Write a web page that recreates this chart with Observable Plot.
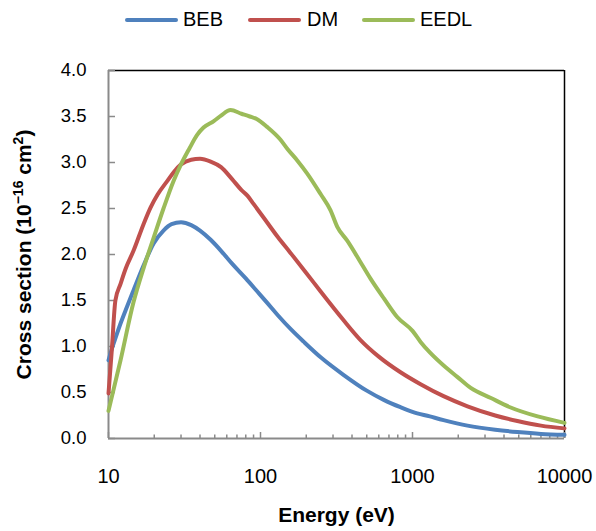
<!DOCTYPE html>
<html><head><meta charset="utf-8">
<script src="https://cdn.jsdelivr.net/npm/d3@7"></script>
<script src="https://cdn.jsdelivr.net/npm/@observablehq/plot@0.6"></script>
<style>
body{margin:0;background:#fff;font-family:"Liberation Sans",Arial,sans-serif;}
#wrap{width:596px;}
#legend{position:relative;width:596px;height:40px;}
.sw{position:absolute;top:18px;height:4px;width:53px;border-radius:2px}
.lb{position:absolute;top:7px;font-size:20px;line-height:24px;color:#000;white-space:nowrap}
</style></head><body>
<div id="wrap"><div id="legend"></div><div id="chart"></div></div>
<script>
const seriesNames = ["BEB", "DM", "EEDL"];
const seriesColors = ["#4F81BD", "#C0504D", "#9BBB59"];

const bebEnergy = [10, 10.5, 11, 12, 13, 14.6, 17, 19.8, 23, 26, 30, 35, 40, 47, 55, 65, 80, 95, 110, 130, 160, 193, 250, 353, 500, 647, 834, 1000, 1300, 1600, 2300, 3500, 4900, 7000, 10000];
const bebSigma  = [0.85, 0.97, 1.07, 1.25, 1.40, 1.61, 1.88, 2.12, 2.26, 2.33, 2.35, 2.32, 2.26, 2.16, 2.04, 1.90, 1.74, 1.60, 1.48, 1.34, 1.18, 1.05, 0.88, 0.69, 0.52, 0.42, 0.34, 0.29, 0.24, 0.20, 0.14, 0.095, 0.07, 0.05, 0.04];

const dmEnergy = [10, 10.5, 11.1, 12, 13, 14.6, 17, 18.9, 21, 24.4, 27, 30, 35, 40, 47, 55, 65, 75, 82, 90, 105, 130, 157, 200, 248, 350, 455, 600, 834, 1130, 1600, 2300, 3500, 4900, 7000, 10000];
const dmSigma  = [0.49, 0.95, 1.50, 1.68, 1.85, 2.04, 2.33, 2.51, 2.65, 2.80, 2.90, 2.98, 3.03, 3.04, 3.01, 2.95, 2.82, 2.70, 2.64, 2.55, 2.40, 2.19, 2.02, 1.80, 1.60, 1.29, 1.07, 0.89, 0.72, 0.59, 0.46, 0.35, 0.25, 0.19, 0.14, 0.11];

const eedlEnergy = [10, 12, 14.6, 17, 19.8, 23, 26.8, 30, 34, 38.3, 42.2, 49.3, 55, 63.5, 75, 85, 95, 110, 135, 150, 175, 203, 248, 289, 320, 372, 450, 528, 650, 793, 1000, 1130, 1310, 1610, 1970, 2415, 3280, 4380, 6660, 10000];
const eedlSigma  = [0.30, 0.85, 1.48, 1.85, 2.18, 2.50, 2.80, 2.98, 3.15, 3.30, 3.38, 3.45, 3.51, 3.57, 3.53, 3.50, 3.47, 3.39, 3.25, 3.15, 3.02, 2.88, 2.66, 2.48, 2.30, 2.15, 1.93, 1.74, 1.52, 1.32, 1.17, 1.05, 0.93, 0.79, 0.67, 0.55, 0.44, 0.34, 0.24, 0.17];

const xTickLabels = [10, 100, 1000, 10000];
const xMinorTicks = [20, 30, 40, 50, 60, 70, 80, 90, 200, 300, 400, 500, 600, 700, 800, 900, 2000, 3000, 4000, 5000, 6000, 7000, 8000, 9000];
const yTicks = [0, 0.5, 1, 1.5, 2, 2.5, 3, 3.5, 4];

const xTitle = "Energy (eV)";
const yTitle = "Cross section (10-16 cm2)";

const toRows = (E, V) => E.map((e, i) => ({E: e, v: V[i]}));
const rows = [toRows(bebEnergy, bebSigma), toRows(dmEnergy, dmSigma), toRows(eedlEnergy, eedlSigma)];

// legend
const legend = document.getElementById("legend");
const swLeft = [125, 248, 362], lbLeft = [183, 307, 420];
seriesNames.forEach((n, i) => {
  const s = document.createElement("div");
  s.className = "sw"; s.style.left = swLeft[i] + "px"; s.style.background = seriesColors[i];
  legend.appendChild(s);
  const l = document.createElement("div");
  l.className = "lb"; l.style.left = lbLeft[i] + "px"; l.textContent = n;
  legend.appendChild(l);
});

const gray = "#8a8a8a";
const chart = Plot.plot({
  width: 596, height: 491,
  marginLeft: 108, marginRight: 32, marginTop: 30, marginBottom: 93,
  x: {type: "log", domain: [10, 10000], label: null},
  y: {domain: [0, 4], label: null},
  style: {fontFamily: "'Liberation Sans', Arial, sans-serif", fontSize: "18px", color: "#000", background: "#fff"},
  marks: [
    Plot.ruleY([4], {stroke: "#000", strokeWidth: 1.5}),
    Plot.ruleX([10000], {stroke: "#000", strokeWidth: 1.5}),
    Plot.axisY({ticks: yTicks, tickSize: 0, tickPadding: 22, tickFormat: d3.format(".1f"), fontSize: 18.5, label: null}),
    Plot.axisY({ticks: yTicks, tickSize: -7, tickFormat: () => "", stroke: gray, strokeWidth: 1.5, label: null}),
    Plot.axisX({ticks: xTickLabels, tickSize: 0, tickPadding: 30, tickFormat: d => String(d), fontSize: 20, label: null}),
    Plot.axisX({ticks: xTickLabels, tickSize: -6, tickFormat: () => "", stroke: gray, strokeWidth: 1.5, label: null}),
    Plot.axisX({ticks: xMinorTicks, tickSize: -3.5, tickFormat: () => "", stroke: gray, strokeWidth: 1.5, label: null}),
    Plot.ruleX([10], {stroke: gray, strokeWidth: 2}),
    Plot.ruleY([0], {stroke: gray, strokeWidth: 2}),
    ...rows.map((r, i) => Plot.line(r, {x: "E", y: "v", stroke: seriesColors[i], strokeWidth: 4, curve: "monotone-x"})),
    Plot.text([xTitle], {frameAnchor: "bottom", dy: 83, text: d => d, fontWeight: "bold", fontSize: 21}),
    Plot.text([yTitle], {frameAnchor: "left", dx: -84, rotate: -90, textAnchor: "middle", text: d => d, fontWeight: "bold", fontSize: 21})
  ]
});
document.getElementById("chart").appendChild(chart);

// superscripts in the y title
d3.select(chart).selectAll("text").filter(function() { return this.textContent === yTitle; }).each(function() {
  const t = d3.select(this);
  t.text(null);
  t.append("tspan").text("Cross section (10");
  t.append("tspan").attr("dy", -8).attr("font-size", "14px").text("\u221216");
  t.append("tspan").attr("dy", 8).text(" cm");
  t.append("tspan").attr("dy", -8).attr("font-size", "14px").text("2");
  t.append("tspan").attr("dy", 8).text(")");
});
</script>
</body></html>
